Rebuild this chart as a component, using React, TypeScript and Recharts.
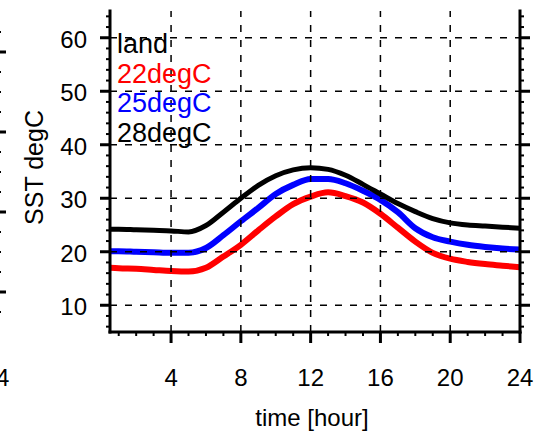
import React from 'react';
import { LineChart, Line, XAxis, YAxis, ReferenceLine, Legend, Label } from 'recharts';

// hours of the day
const hours = [0.5, 1, 2, 3, 4, 5, 6, 7, 8, 9, 10, 11, 12, 13, 14, 15, 16, 17, 18, 19, 20, 21, 22, 23, 24];

// SST curves, degC
const sst22 = [17.0, 16.9, 16.8, 16.6, 16.4, 16.3, 17.0, 19.1, 21.3, 24.0, 26.6, 28.9, 30.3, 31.1, 30.4, 29.2, 27.1, 24.5, 21.9, 19.8, 18.7, 18.1, 17.7, 17.4, 17.1];
const sst25 = [20.1, 20.1, 20.0, 19.9, 19.8, 19.8, 20.7, 23.1, 25.7, 28.2, 30.8, 32.5, 33.6, 33.6, 32.8, 31.4, 29.7, 27.4, 24.4, 22.7, 21.9, 21.3, 20.9, 20.6, 20.4];
const sst28 = [24.2, 24.2, 24.1, 24.0, 23.9, 23.7, 24.9, 27.4, 30.0, 32.4, 34.2, 35.3, 35.7, 35.4, 34.3, 32.6, 30.8, 29.0, 27.5, 26.2, 25.4, 25.0, 24.8, 24.6, 24.4];

const legendLabels = ['land', '22degC', '25degC', '28degC'];
const legendColors = ['#000000', '#ff0000', '#0000ff', '#000000'];

const yTicks = [6, 8, 10, 12, 14, 16, 18, 20, 22, 24, 26, 28, 30, 32, 34, 36, 38, 40, 42, 44, 46, 48, 50, 52, 54, 56, 58, 60, 62, 64];
const yGrid = [10, 20, 30, 40, 50, 60];
const xTicks = [1, 2, 3, 4, 5, 6, 7, 8, 9, 10, 11, 12, 13, 14, 15, 16, 17, 18, 19, 20, 21, 22, 23, 24];
const xGrid = [4, 8, 12, 16, 20];

// right edge of the neighbouring panel (cut off at the left of the picture)
const sideTicks = [1, 2, 3, 4, 5, 6, 7, 8, 9, 10, 11, 12, 13, 14, 15];
const sideMajor = [2, 6, 10, 14];

const data = hours.map((h, i) => ({ hour: h, sst22: sst22[i], sst25: sst25[i], sst28: sst28[i] }));

const FONT = 'Arial, "Liberation Sans", sans-serif';
const axisLineStyle = { stroke: '#000', strokeWidth: 3, strokeLinecap: 'square' as const };

const LeftTick = (props: any) => {
  const { x, y, payload } = props;
  const v = payload.value;
  const major = v % 10 === 0;
  return (
    <g>
      <line x1={x - (major ? 10 : 4)} y1={y} x2={x} y2={y} stroke="#000" strokeWidth={major ? 3 : 2} />
      {major && (
        <text x={x - 23} y={y + 10} textAnchor="end" fontSize={24} fontFamily={FONT} fill="#000">
          {v}
        </text>
      )}
    </g>
  );
};

const RightTick = (props: any) => {
  const { x, y, payload } = props;
  const major = payload.value % 10 === 0;
  return <line x1={x} y1={y} x2={x + (major ? 10 : 4)} y2={y} stroke="#000" strokeWidth={major ? 3 : 2} />;
};

const BottomTick = (props: any) => {
  const { x, y, payload } = props;
  const v = payload.value;
  const major = v % 4 === 0;
  return (
    <g>
      <line x1={x} y1={y} x2={x} y2={y + (major ? 11 : 4)} stroke="#000" strokeWidth={major ? 3 : 2} />
      {major && (
        <text x={x} y={y + 54} textAnchor="middle" fontSize={24} fontFamily={FONT} fill="#000">
          {v}
        </text>
      )}
    </g>
  );
};

const SideTick = (props: any) => {
  const { x, y, payload } = props;
  const major = sideMajor.includes(payload.value);
  return <line x1={x} y1={y} x2={x + (major ? 10 : 5)} y2={y} stroke="#000" strokeWidth={major ? 3 : 2} />;
};

const SideBottomTick = (props: any) => {
  const { x, y, payload } = props;
  return (
    <text x={x} y={y + 54} textAnchor="middle" fontSize={24} fontFamily={FONT} fill="#000">
      {payload.value}
    </text>
  );
};

const YTitle = (props: any) => {
  const vb = props.viewBox || {};
  const cx = (vb.x || 0) + 43;
  const cy = (vb.y || 0) + (vb.height || 0) / 2 - 4;
  return (
    <text x={cx} y={cy} transform={`rotate(-90, ${cx}, ${cy})`} textAnchor="middle" fontSize={25} fontFamily={FONT} fill="#000">
      SST degC
    </text>
  );
};

const XTitle = (props: any) => {
  const vb = props.viewBox || {};
  return (
    <text x={(vb.x || 0) + (vb.width || 0) / 2 - 3} y={(vb.y || 0) + 94} textAnchor="middle" fontSize={24} fontFamily={FONT} fill="#000">
      time [hour]
    </text>
  );
};

const LegendBox = () => (
  <div style={{ fontFamily: FONT, fontSize: 27, lineHeight: '29.5px' }}>
    {legendLabels.map((label, i) => (
      <div key={label} style={{ color: legendColors[i] }}>
        {label}
      </div>
    ))}
  </div>
);

export default function App() {
  return (
    <div style={{ position: 'absolute', left: 0, top: 0, width: 550, height: 435, overflow: 'hidden', background: '#fff' }}>
      {/* cut-off neighbour panel */}
      <div style={{ position: 'absolute', left: -174, top: 0 }}>
        <LineChart width={200} height={435} data={data} margin={{ top: 12, right: 0, bottom: 0, left: 0 }}>
          <XAxis type="number" dataKey="hour" domain={[0, 24]} allowDataOverflow ticks={[24]} interval={0} tickSize={0} tickMargin={0} tick={SideBottomTick} tickLine={false} axisLine={axisLineStyle} height={103} />
          <YAxis type="number" orientation="right" domain={[0, 16]} allowDataOverflow ticks={sideTicks} interval={0} tickSize={0} tickMargin={0} tick={SideTick} tickLine={false} axisLine={axisLineStyle} width={30} />
        </LineChart>
      </div>

      <div style={{ position: 'absolute', left: 0, top: 0 }}>
        <LineChart width={550} height={435} data={data} margin={{ top: 11, right: 0, bottom: 0, left: 0 }}>
          <XAxis
            xAxisId="bottom"
            type="number"
            dataKey="hour"
            domain={[0.5, 24]}
            allowDataOverflow
            ticks={xTicks}
            interval={0}
            tickSize={0}
            tickMargin={0}
            tickLine={false}
            tick={BottomTick}
            axisLine={axisLineStyle}
            height={103}
          >
            <Label content={XTitle} />
          </XAxis>
          <XAxis xAxisId="top" orientation="top" type="number" dataKey="hour" domain={[0.5, 24]} allowDataOverflow tick={false} tickLine={false} axisLine={axisLineStyle} height={0} />
          <YAxis
            yAxisId="left"
            type="number"
            domain={[5, 65]}
            allowDataOverflow
            ticks={yTicks}
            interval={0}
            tickSize={0}
            tickMargin={0}
            tickLine={false}
            tick={LeftTick}
            axisLine={axisLineStyle}
            width={110}
          >
            <Label content={YTitle} />
          </YAxis>
          <YAxis
            yAxisId="right"
            orientation="right"
            type="number"
            domain={[5, 65]}
            allowDataOverflow
            ticks={yTicks}
            interval={0}
            tickSize={0}
            tickMargin={0}
            tickLine={false}
            tick={RightTick}
            axisLine={axisLineStyle}
            width={30}
          />

          <Line xAxisId="bottom" yAxisId="left" type="monotone" dataKey="sst22" stroke="#ff0000" strokeWidth={6} dot={false} isAnimationActive={false} />
          <Line xAxisId="bottom" yAxisId="left" type="monotone" dataKey="sst25" stroke="#0000ff" strokeWidth={6} dot={false} isAnimationActive={false} />
          <Line xAxisId="bottom" yAxisId="left" type="monotone" dataKey="sst28" stroke="#000000" strokeWidth={5} dot={false} isAnimationActive={false} />

          {yGrid.map((v) => (
            <ReferenceLine key={`h${v}`} xAxisId="bottom" yAxisId="left" y={v} stroke="#000" strokeWidth={1.5} strokeDasharray="7 8" />
          ))}
          {xGrid.map((v) => (
            <ReferenceLine key={`v${v}`} xAxisId="bottom" yAxisId="left" x={v} stroke="#000" strokeWidth={1.5} strokeDasharray="7 8" />
          ))}

          <Legend
            layout="vertical"
            align="center"
            verticalAlign="middle"
            content={LegendBox}
            wrapperStyle={{ position: 'absolute', left: 117, top: 30, width: 'auto', height: 'auto' }}
          />
        </LineChart>
      </div>
    </div>
  );
}
